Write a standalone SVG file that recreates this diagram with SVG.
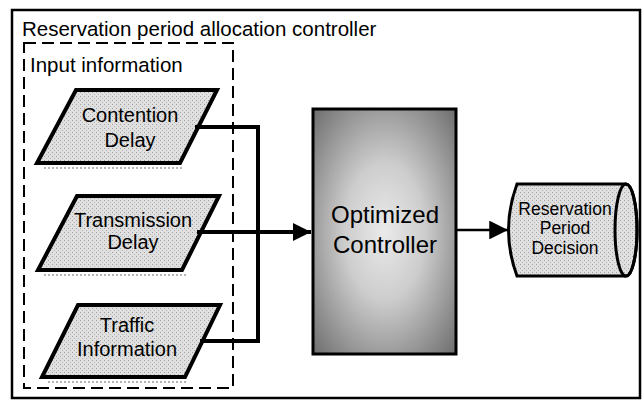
<svg xmlns="http://www.w3.org/2000/svg" width="644" height="402" viewBox="0 0 644 402">
  <style>
    .frame { fill: #ffffff; stroke: #000; stroke-width: 2.5; }
    .dash { fill: none; stroke: #000; stroke-width: 2; stroke-dasharray: 12 6; }
    .input { fill: url(#stipple); stroke: #000; stroke-width: 4; stroke-linejoin: miter; }
    .shadow { fill: none; stroke: #b5b5b5; stroke-width: 2; stroke-dasharray: 2 2; }
    .wire { fill: none; stroke: #000; stroke-width: 4; }
    .thin { fill: none; stroke: #000; stroke-width: 2.5; }
    .label { font-family: "Liberation Sans", Arial, sans-serif; fill: #000; }
    .title { font-size: 20.5px; }
    .node { font-size: 20px; text-anchor: middle; }
    .big { font-size: 24px; text-anchor: middle; }
    .small { font-size: 17.5px; text-anchor: middle; }
  </style>
  <defs>
    <pattern id="stipple" width="4" height="4" patternUnits="userSpaceOnUse">
      <rect width="4" height="4" fill="#e0e0e0"/>
      <rect x="0" y="0" width="1" height="1" fill="#a0a0a0"/>
      <rect x="2" y="2" width="1" height="1" fill="#b4b4b4"/>
    </pattern>
    <radialGradient id="ctrlFill" cx="0.5" cy="0.5" r="0.7">
      <stop offset="0" stop-color="#eaeaea"/>
      <stop offset="0.4" stop-color="#cdcdcd"/>
      <stop offset="1" stop-color="#6e6e6e"/>
    </radialGradient>
    <marker id="head" viewBox="0 0 10 10" refX="10" refY="5" markerWidth="6" markerHeight="4.5" markerUnits="strokeWidth" orient="auto">
      <path d="M0,0 L10,5 L0,10 Z" fill="#000"/>
    </marker>
    <marker id="headSmall" viewBox="0 0 10 10" refX="10" refY="5" markerWidth="9" markerHeight="7.5" markerUnits="strokeWidth" orient="auto">
      <path d="M0,0 L10,5 L0,10 Z" fill="#000"/>
    </marker>
  </defs>

  <!-- outer frame -->
  <g id="allocation-controller">
    <rect class="frame" x="12" y="10" width="628" height="388"/>
    <text class="label title" x="22" y="36">Reservation period allocation controller</text>
  </g>

  <!-- dashed input group -->
  <g id="input-information">
    <rect class="dash" x="24" y="43" width="209" height="345"/>
    <text class="label title" x="30" y="72">Input information</text>
  </g>

  <g id="contention-delay">
    <path class="shadow" d="M44,168 H184"/>
    <polygon class="input" points="76,90 217,90 180,163 37,163"/>
    <text class="label node" x="130" y="122">Contention</text>
    <text class="label node" x="130" y="147">Delay</text>
  </g>

  <g id="transmission-delay">
    <path class="shadow" d="M44,275 H186"/>
    <polygon class="input" points="77,196 219,196 182,270 38,270"/>
    <text class="label node" x="133" y="227">Transmission</text>
    <text class="label node" x="133" y="249">Delay</text>
  </g>

  <g id="traffic-information">
    <path class="shadow" d="M48,382 H188"/>
    <polygon class="input" points="78,305 220,305 185,377 42,377"/>
    <text class="label node" x="127" y="332">Traffic</text>
    <text class="label node" x="127" y="356">Information</text>
  </g>

  <g id="optimized-controller">
    <rect x="313" y="109" width="143" height="245" fill="url(#ctrlFill)" stroke="#000" stroke-width="3"/>
    <text class="label big" x="385" y="223">Optimized</text>
    <text class="label big" x="385" y="253">Controller</text>
  </g>

  <g id="reservation-period-decision">
    <path d="M517,184 H626 A11,46 0 0 1 626,276 H517 Q500,230 517,184 Z" fill="url(#stipple)" stroke="#000" stroke-width="3"/>
    <ellipse cx="626" cy="230" rx="11" ry="46" fill="none" stroke="#000" stroke-width="3"/>
    <text class="label small" x="565" y="215">Reservation</text>
    <text class="label small" x="565" y="234">Period</text>
    <text class="label small" x="565" y="254">Decision</text>
  </g>

  <g id="connectors">
    <path class="wire" d="M195,127 H258 V341 H200"/>
    <path class="wire" d="M197,232 H311" marker-end="url(#head)"/>
    <path class="thin" d="M457,230 H508" marker-end="url(#headSmall)"/>
  </g>
</svg>
